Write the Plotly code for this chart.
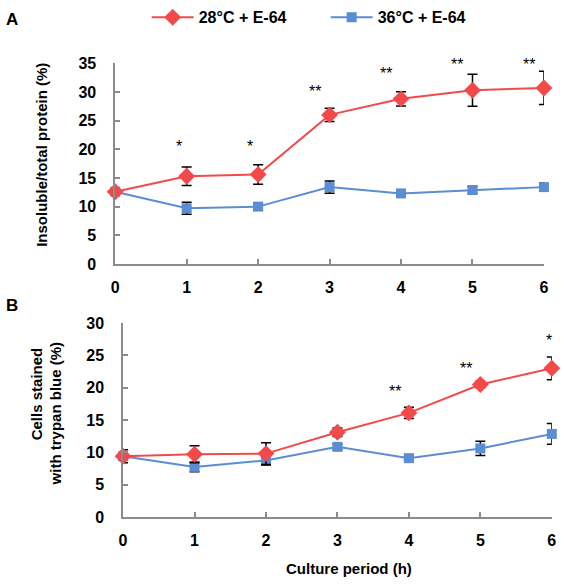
import plotly.graph_objects as go

hours = [0, 1, 2, 3, 4, 5, 6]

# Panel A: insoluble/total protein (%)
a_28 = [12.6, 15.3, 15.6, 26.0, 28.8, 30.3, 30.7]
a_28_err = [0.4, 1.6, 1.7, 1.15, 1.25, 2.8, 2.9]
a_36 = [12.6, 9.7, 10.0, 13.4, 12.3, 12.9, 13.4]
a_36_err = [0.4, 1.05, 0.6, 1.05, 0.4, 0.6, 0.7]
a_stars = ["", "*", "*", "**", "**", "**", "**"]
a_star_y = [0, 20.5, 20.5, 30.1, 33.3, 34.8, 34.8]

# Panel B: cells stained with trypan blue (%)
b_28 = [9.4, 9.7, 9.8, 13.1, 16.1, 20.5, 23.0]
b_28_err = [0.4, 1.3, 1.7, 0.65, 0.87, 0.5, 1.75]
b_36 = [9.4, 7.75, 8.75, 10.85, 9.1, 10.6, 12.85]
b_36_err = [1.0, 0.75, 0.75, 0.4, 0.3, 1.1, 1.6]
b_stars = ["", "", "", "", "**", "**", "*"]
b_star_y = [0, 0, 0, 0, 19.4, 23.0, 27.3]

RED = "#f24a4a"
BLUE = "#5a8dd4"
AXC = "#8c8c8c"
FONT = "Liberation Sans"

fig = go.Figure()

def add_pair(xa, ya, v28, e28, v36, e36, showleg):
    fig.add_trace(go.Scatter(
        x=hours, y=v36, mode="lines+markers", name="36\u00b0C + E-64",
        line=dict(color=BLUE, width=2),
        marker=dict(symbol="square", size=10, color=BLUE),
        error_y=dict(type="data", array=e36, color="black", thickness=1.5, width=5),
        xaxis=xa, yaxis=ya, cliponaxis=False, showlegend=showleg, legendrank=2))
    fig.add_trace(go.Scatter(
        x=hours, y=v28, mode="lines+markers", name="28\u00b0C + E-64",
        line=dict(color=RED, width=2),
        marker=dict(symbol="diamond", size=13, color=RED),
        error_y=dict(type="data", array=e28, color="black", thickness=1.5, width=5),
        xaxis=xa, yaxis=ya, cliponaxis=False, showlegend=showleg, legendrank=1))

add_pair("x", "y", a_28, a_28_err, a_36, a_36_err, True)
add_pair("x2", "y2", b_28, b_28_err, b_36, b_36_err, False)

STARFONT = dict(family=FONT, size=16, color="black")
ann = []
for h, s, yv in zip(hours, a_stars, a_star_y):
    if s:
        ann.append(dict(x=h, y=yv, xref="x", yref="y", text=s, showarrow=False,
                        xanchor="center", yanchor="middle",
                        xshift=-8 if len(s) == 1 else -15, font=STARFONT))
for h, s, yv in zip(hours, b_stars, b_star_y):
    if s:
        ann.append(dict(x=h, y=yv, xref="x2", yref="y2", text=s, showarrow=False,
                        xanchor="center", yanchor="middle",
                        xshift=-3 if len(s) == 1 else -14, font=STARFONT))

def pann(x, y, text, size=15, angle=0):
    return dict(x=x / 564, y=1 - y / 588, xref="paper", yref="paper", text=text,
                textangle=angle, showarrow=False, xanchor="center", yanchor="middle",
                font=dict(family=FONT, size=size, color="black"))

# panel letters & axis titles
ann += [
    pann(8, 11, "<b>A</b>", 17),
    pann(8, 306, "<b>B</b>", 17),
    pann(38, 150, "<b>Insoluble/total protein (%)</b>", 15, -90),
    pann(33, 397, "<b>Cells stained</b>", 15, -90),
    pann(52, 417, "<b>with trypan blue (%)</b>", 15, -90),
    pann(351, 577, "<b>Culture period (h)</b>", 15),
]

TICKFONT = dict(family=FONT, size=16, color="black", weight="bold")
xcommon = dict(range=[0, 6], tickvals=hours, ticks="inside", ticklen=5, tickwidth=1.5,
               tickcolor=AXC, showline=True, linecolor=AXC, linewidth=1.5,
               showgrid=False, zeroline=False, ticklabelstandoff=8, tickfont=TICKFONT)
ycommon = dict(ticks="inside", ticklen=5, tickwidth=1.5, tickcolor=AXC, showline=True,
               linecolor=AXC, linewidth=1.5, showgrid=False, zeroline=False,
               ticklabelstandoff=14, tickfont=TICKFONT)

fig.update_layout(
    width=564, height=588,
    margin=dict(l=0, r=0, t=0, b=0),
    paper_bgcolor="white", plot_bgcolor="white",
    font=dict(family=FONT, color="black"),
    xaxis=dict(domain=[113 / 564, 548.7 / 564], anchor="y", **xcommon),
    yaxis=dict(domain=[(588 - 263) / 588, (588 - 56) / 588], anchor="x",
               range=[0, 35], dtick=5, tick0=0, **ycommon),
    xaxis2=dict(domain=[121 / 564, 556.7 / 564], anchor="y2", **xcommon),
    yaxis2=dict(domain=[(588 - 524) / 588, (588 - 324) / 588], anchor="x2",
                range=[0, 30], dtick=5, tick0=0, **ycommon),
    legend=dict(orientation="h", x=145 / 564, y=1 + 9 / 588, xanchor="left", yanchor="top",
                itemwidth=42, entrywidth=122, entrywidthmode="pixels",
                font=dict(family=FONT, size=16, color="black", weight="bold"),
                bgcolor="rgba(0,0,0,0)", traceorder="normal"),
    annotations=ann,
    showlegend=True,
)
for tr in fig.data:
    tr.update(legendgroup=tr.name)

fig.write_html("out.html", config={"displayModeBar": False},
               post_script="document.body.style.margin='0';")
